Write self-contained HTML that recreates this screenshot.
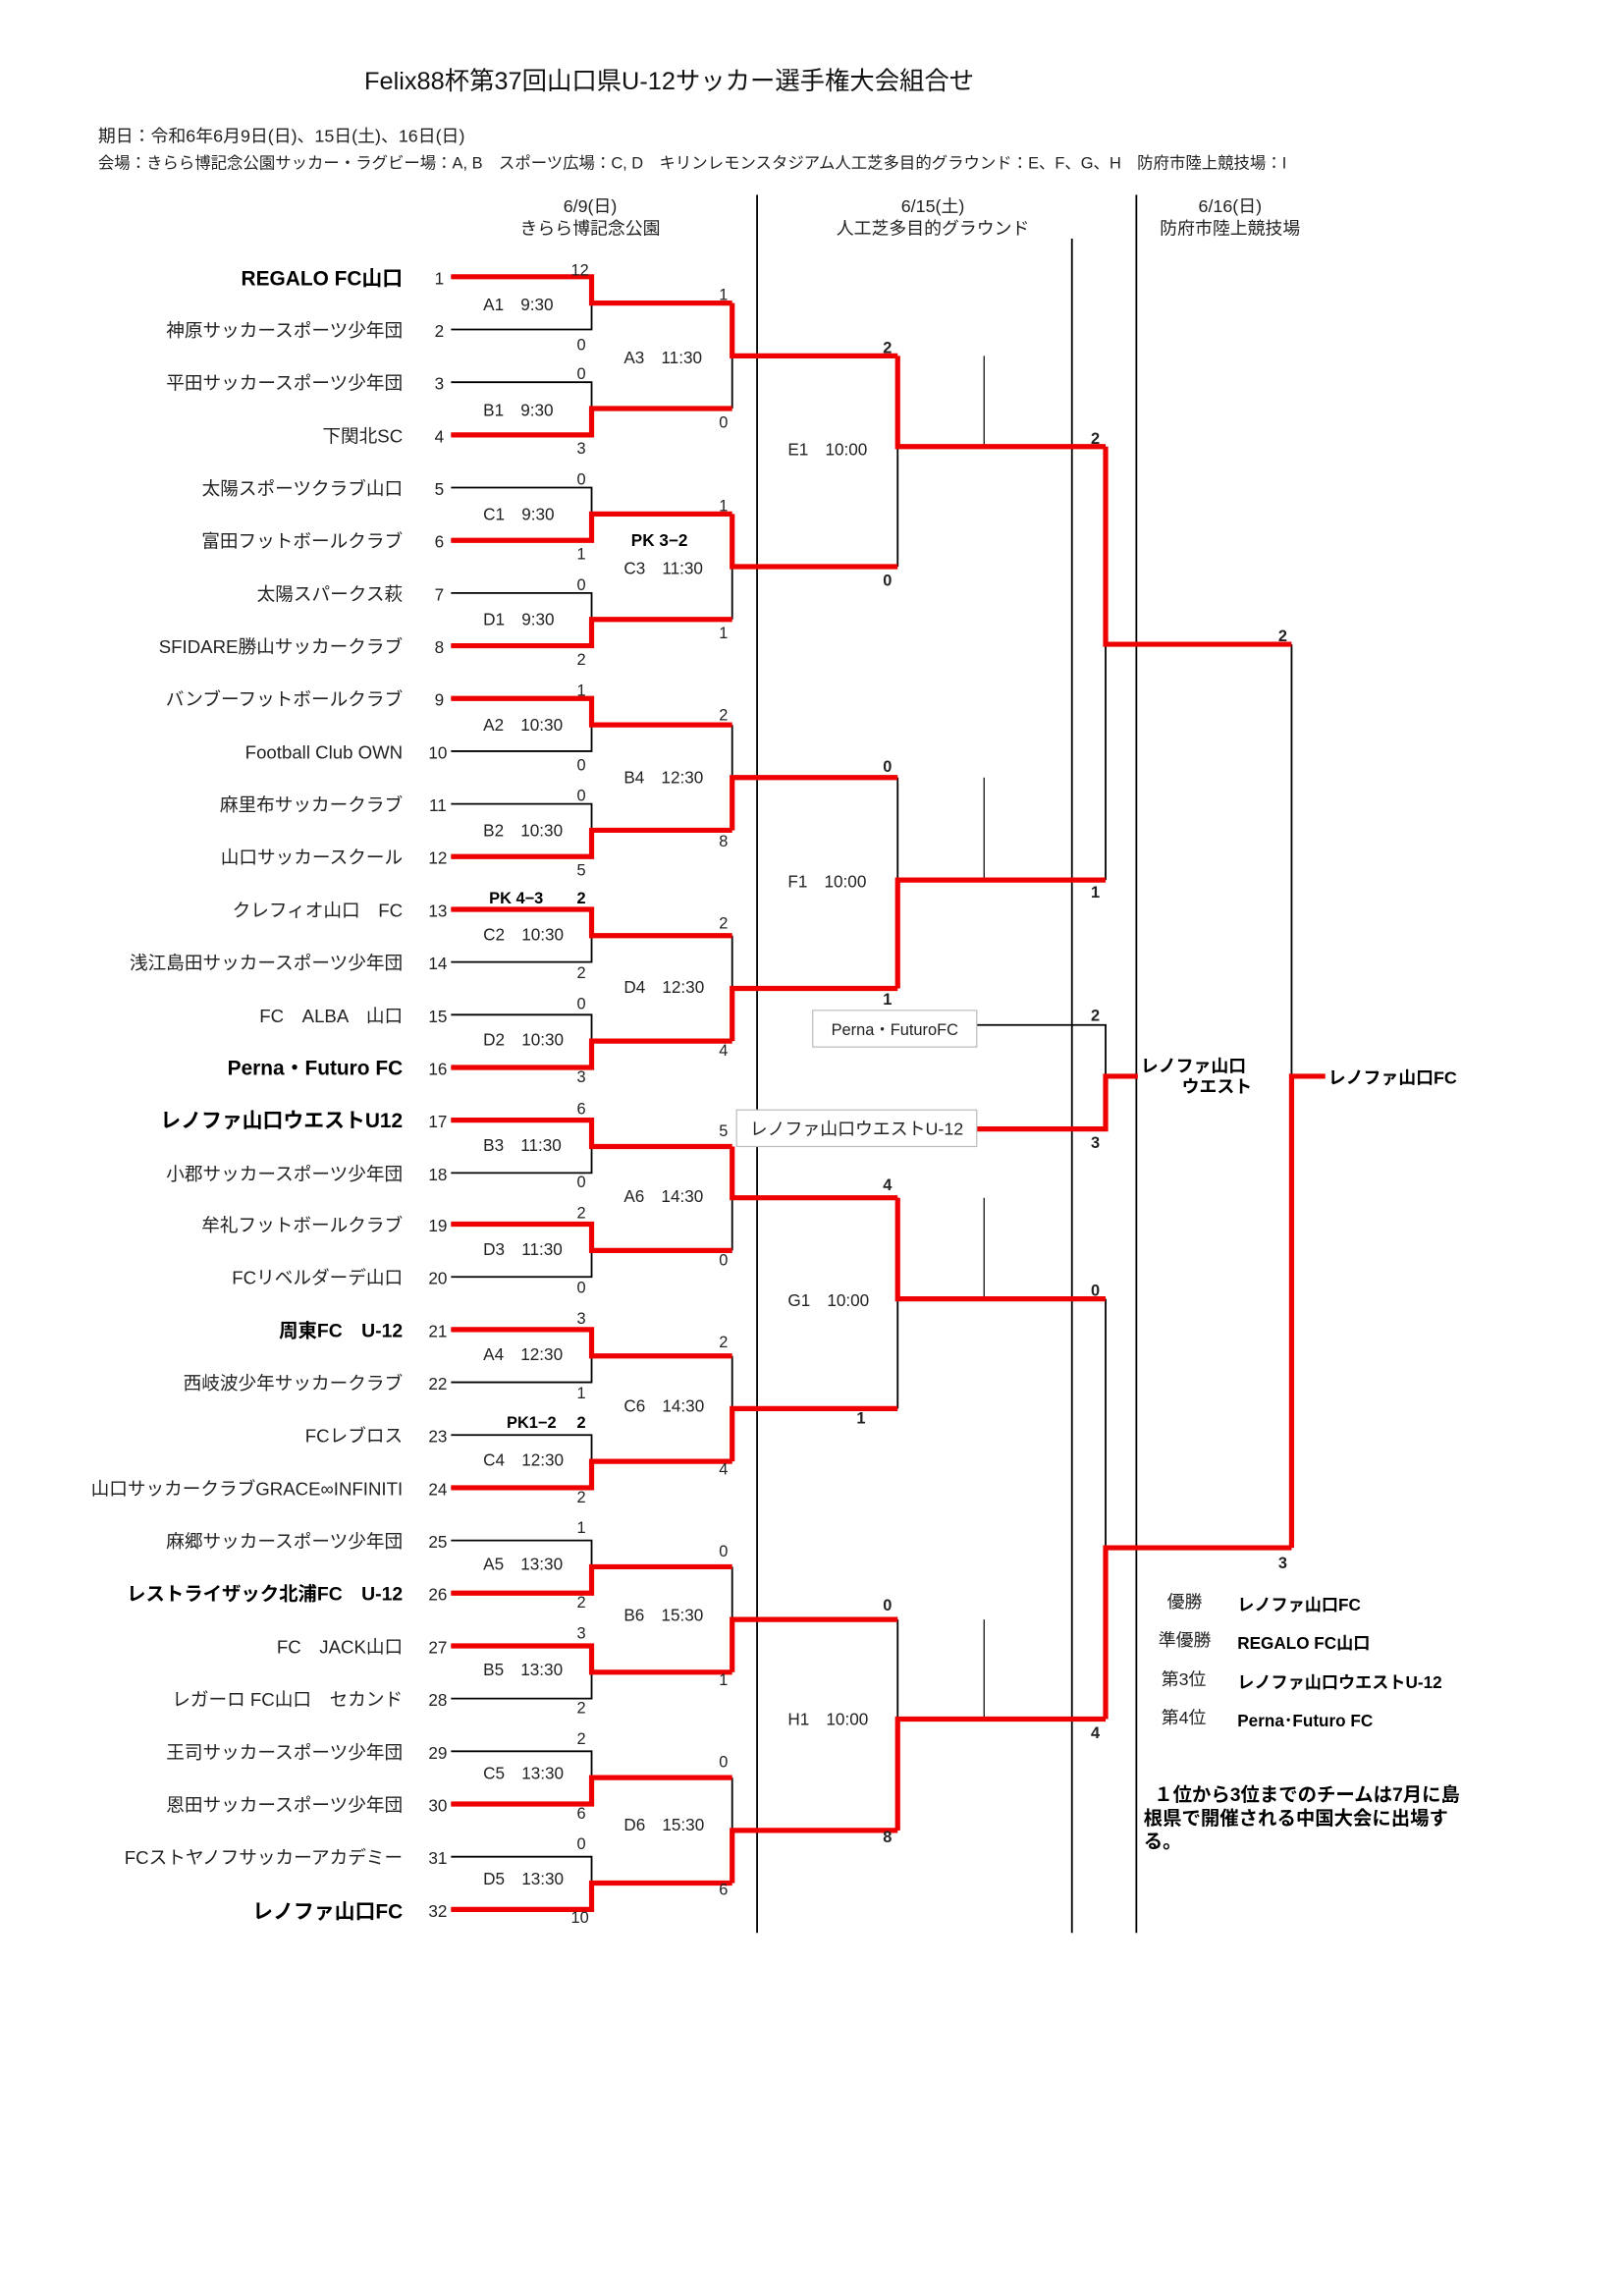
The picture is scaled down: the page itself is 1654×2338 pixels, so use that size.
<!DOCTYPE html>
<html><head><meta charset="utf-8"><style>
html,body{margin:0;padding:0;background:#fff}
svg{display:block}
text{font-family:"Liberation Sans","Noto Sans CJK JP",sans-serif;fill:#222}
.t{font-size:12.5px;text-anchor:end}
.b{font-weight:bold;font-size:14px;fill:#000}
.n{font-size:11.5px;text-anchor:middle}
.s{font-size:11px;text-anchor:middle}
.m{font-size:11.5px}
.sb{font-size:11px;font-weight:bold;text-anchor:middle;fill:#000}
</style></head><body>
<svg width="1654" height="2338" viewBox="0 0 1109 1568" preserveAspectRatio="none" xmlns="http://www.w3.org/2000/svg">
<text x="457" y="61" style="font-size:17px;text-anchor:middle;fill:#111">Felix88杯第37回山口県U-12サッカー選手権大会組合せ</text>
<text x="67" y="97" style="font-size:12px">期日：令和6年6月9日(日)、15日(土)、16日(日)</text>
<text x="67" y="115" style="font-size:11px">会場：きらら博記念公園サッカー・ラグビー場：A, B　スポーツ広場：C, D　キリンレモンスタジアム人工芝多目的グラウンド：E、F、G、H　防府市陸上競技場：I</text>
<g class="n" style="font-size:12px">
<text x="403" y="145">6/9(日)</text><text x="403" y="160">きらら博記念公園</text>
<text x="637" y="145">6/15(土)</text><text x="637" y="160">人工芝多目的グラウンド</text>
<text x="840" y="145">6/16(日)</text><text x="840" y="160">防府市陸上競技場</text>
</g>
<g stroke="#000" stroke-width="1.2" fill="none">
<path d="M517 133V1320M732 163V1320M776 133V1320"/>
<path d="M672 243V305M672 531V601M672 818V887M672 1106V1174" stroke-width="0.8"/>
<path d="M308 189H404V225H308M308 261H404V297H308M308 333H404V369H308M308 405H404V441H308M308 477H404V513H308M308 549H404V585H308M308 621H404V657H308M308 693H404V729H308M308 765H404V801H308M308 836H404V872H308M308 908H404V944H308M308 980H404V1016H308M308 1052H404V1088H308M308 1124H404V1160H308M308 1196H404V1232H308M308 1268H404V1304H308"/>
<path d="M500 207V279M500 351V423M500 495V567M500 639V711M500 783V854M500 926V998M500 1070V1142M500 1214V1286"/>
<path d="M613 243V387M613 531V675M613 818V962M613 1106V1250"/>
<path d="M755 305V601M755 887V1174M882 440V1057"/>
<path d="M667 700H755V771"/>
</g>
<g stroke="#e00" stroke-width="3.5" fill="none">
<path d="M308 189H404V207H500M308 297H404V279H500M308 369H404V351H500M308 441H404V423H500M308 477H404V495H500M308 585H404V567H500M308 621H404V639H500M308 729H404V711H500M308 765H404V783H500M308 836H404V854H500M308 908H404V926H500M308 1016H404V998H500M308 1088H404V1070H500M308 1124H404V1142H500M308 1232H404V1214H500M308 1304H404V1286H500"/>
<path d="M500 207V243H613M500 351V387H613M500 567V531H613M500 711V675H613M500 783V818H613M500 998V962H613M500 1142V1106H613M500 1286V1250H613"/>
<path d="M613 243V305H755M613 675V601H755M613 818V887H755M613 1250V1174H755"/>
<path d="M755 305V440H882M755 1174V1057H882M882 1057V735H905"/>
<path d="M667 771H755V735H777"/>
</g>
<rect x="555" y="690" width="112" height="25" fill="#fff" stroke="#bbb" stroke-width="0.8"/>
<text x="611" y="707" class="s">Perna・FuturoFC</text>
<rect x="503" y="758" width="164" height="25" fill="#fff" stroke="#bbb" stroke-width="0.8"/>
<text x="585" y="775" class="s" style="font-size:12px">レノファ山口ウエストU-12</text>
<g class="t">
<text x="275" y="195" class="b" style="text-anchor:end">REGALO FC山口</text>
<text x="275" y="230">神原サッカースポーツ少年団</text>
<text x="275" y="266">平田サッカースポーツ少年団</text>
<text x="275" y="302">下関北SC</text>
<text x="275" y="338">太陽スポーツクラブ山口</text>
<text x="275" y="374">富田フットボールクラブ</text>
<text x="275" y="410">太陽スパークス萩</text>
<text x="275" y="446">SFIDARE勝山サッカークラブ</text>
<text x="275" y="482">バンブーフットボールクラブ</text>
<text x="275" y="518">Football Club OWN</text>
<text x="275" y="554">麻里布サッカークラブ</text>
<text x="275" y="590">山口サッカースクール</text>
<text x="275" y="626">クレフィオ山口　FC</text>
<text x="275" y="662">浅江島田サッカースポーツ少年団</text>
<text x="275" y="698">FC　ALBA　山口</text>
<text x="275" y="734" class="b" style="text-anchor:end">Perna・Futuro FC</text>
<text x="275" y="770" class="b" style="text-anchor:end">レノファ山口ウエストU12</text>
<text x="275" y="806">小郡サッカースポーツ少年団</text>
<text x="275" y="841">牟礼フットボールクラブ</text>
<text x="275" y="877">FCリベルダーデ山口</text>
<text x="275" y="913" class="b" style="text-anchor:end;font-size:13px">周東FC　U-12</text>
<text x="275" y="949">西岐波少年サッカークラブ</text>
<text x="275" y="985">FCレブロス</text>
<text x="275" y="1021">山口サッカークラブGRACE∞INFINITI</text>
<text x="275" y="1057">麻郷サッカースポーツ少年団</text>
<text x="275" y="1093" class="b" style="text-anchor:end;font-size:13px">レストライザック北浦FC　U-12</text>
<text x="275" y="1129">FC　JACK山口</text>
<text x="275" y="1165">レガーロ FC山口　セカンド</text>
<text x="275" y="1201">王司サッカースポーツ少年団</text>
<text x="275" y="1237">恩田サッカースポーツ少年団</text>
<text x="275" y="1273">FCストヤノフサッカーアカデミー</text>
<text x="275" y="1310" class="b" style="text-anchor:end">レノファ山口FC</text>
</g>
<g class="n">
<text x="300" y="194">1</text><text x="300" y="230">2</text><text x="300" y="266">3</text><text x="300" y="302">4</text>
<text x="300" y="338">5</text><text x="300" y="374">6</text><text x="300" y="410">7</text><text x="300" y="446">8</text>
<text x="300" y="482">9</text><text x="299" y="518">10</text><text x="299" y="554">11</text><text x="299" y="590">12</text>
<text x="299" y="626">13</text><text x="299" y="662">14</text><text x="299" y="698">15</text><text x="299" y="734">16</text>
<text x="299" y="770">17</text><text x="299" y="806">18</text><text x="299" y="841">19</text><text x="299" y="877">20</text>
<text x="299" y="913">21</text><text x="299" y="949">22</text><text x="299" y="985">23</text><text x="299" y="1021">24</text>
<text x="299" y="1057">25</text><text x="299" y="1093">26</text><text x="299" y="1129">27</text><text x="299" y="1165">28</text>
<text x="299" y="1201">29</text><text x="299" y="1237">30</text><text x="299" y="1273">31</text><text x="299" y="1309">32</text>
</g>
<g class="m">
<text x="330" y="212">A1　9:30</text><text x="330" y="284">B1　9:30</text><text x="330" y="355">C1　9:30</text><text x="330" y="427">D1　9:30</text>
<text x="330" y="499">A2　10:30</text><text x="330" y="571">B2　10:30</text><text x="330" y="642">C2　10:30</text><text x="330" y="714">D2　10:30</text>
<text x="330" y="786">B3　11:30</text><text x="330" y="857">D3　11:30</text><text x="330" y="929">A4　12:30</text><text x="330" y="1001">C4　12:30</text>
<text x="330" y="1072">A5　13:30</text><text x="330" y="1144">B5　13:30</text><text x="330" y="1215">C5　13:30</text><text x="330" y="1287">D5　13:30</text>
<text x="426" y="248">A3　11:30</text><text x="426" y="392">C3　11:30</text><text x="426" y="535">B4　12:30</text><text x="426" y="678">D4　12:30</text>
<text x="426" y="821">A6　14:30</text><text x="426" y="964">C6　14:30</text><text x="426" y="1107">B6　15:30</text><text x="426" y="1250">D6　15:30</text>
<text x="538" y="311">E1　10:00</text><text x="538" y="606">F1　10:00</text><text x="538" y="892">G1　10:00</text><text x="538" y="1178">H1　10:00</text>
</g>
<text x="431" y="373" style="font-size:11.5px;font-weight:bold;fill:#000">PK 3−2</text>
<text x="334" y="617" style="font-size:11px;font-weight:bold;fill:#000">PK 4−3</text>
<text x="346" y="975" style="font-size:11px;font-weight:bold;fill:#000">PK1−2</text>
<g class="s">
<text x="396" y="188">12</text><text x="397" y="239">0</text>
<text x="397" y="259">0</text><text x="397" y="310">3</text>
<text x="397" y="331">0</text><text x="397" y="382">1</text>
<text x="397" y="403">0</text><text x="397" y="454">2</text>
<text x="397" y="475">1</text><text x="397" y="526">0</text>
<text x="397" y="547">0</text><text x="397" y="598">5</text>
<text x="397" y="617" class="sb">2</text><text x="397" y="668">2</text>
<text x="397" y="689">0</text><text x="397" y="739">3</text>
<text x="397" y="761">6</text><text x="397" y="811">0</text>
<text x="397" y="832">2</text><text x="397" y="883">0</text>
<text x="397" y="904">3</text><text x="397" y="955">1</text>
<text x="397" y="975" class="sb">2</text><text x="397" y="1026">2</text>
<text x="397" y="1047">1</text><text x="397" y="1098">2</text>
<text x="397" y="1119">3</text><text x="397" y="1170">2</text>
<text x="397" y="1191">2</text><text x="397" y="1242">6</text>
<text x="397" y="1263">0</text><text x="396" y="1313">10</text>
<text x="494" y="205">1</text><text x="494" y="292">0</text>
<text x="494" y="349">1</text><text x="494" y="436">1</text>
<text x="494" y="492">2</text><text x="494" y="578">8</text>
<text x="494" y="634">2</text><text x="494" y="721">4</text>
<text x="494" y="776">5</text><text x="494" y="864">0</text>
<text x="494" y="920">2</text><text x="494" y="1007">4</text>
<text x="494" y="1063">0</text><text x="494" y="1151">1</text>
<text x="494" y="1207">0</text><text x="494" y="1294">6</text>
</g>
<g class="sb">
<text x="606" y="241">2</text><text x="606" y="400">0</text>
<text x="606" y="527">0</text><text x="606" y="686">1</text>
<text x="606" y="813">4</text><text x="588" y="972">1</text>
<text x="606" y="1100">0</text><text x="606" y="1258">8</text>
<text x="748" y="303">2</text><text x="748" y="613">1</text>
<text x="748" y="885">0</text><text x="748" y="1187">4</text>
<text x="748" y="697">2</text><text x="748" y="784">3</text>
<text x="876" y="438">2</text><text x="876" y="1071">3</text>
</g>
<text x="779" y="732" style="font-size:12px;font-weight:bold;fill:#000">レノファ山口</text>
<text x="807" y="746" style="font-size:12px;font-weight:bold;fill:#000">ウエスト</text>
<text x="907" y="740" style="font-size:12px;font-weight:bold;fill:#000">レノファ山口FC</text>
<g style="font-size:12px">
<text x="797" y="1098">優勝</text><text x="791" y="1124">準優勝</text><text x="793" y="1151">第3位</text><text x="793" y="1177">第4位</text>
</g>
<g style="font-size:11.5px;font-weight:bold">
<text x="845" y="1100" style="fill:#000">レノファ山口FC</text>
<text x="845" y="1126" style="fill:#000">REGALO FC山口</text>
<text x="845" y="1153" style="fill:#000">レノファ山口ウエストU-12</text>
<text x="845" y="1179" style="fill:#000">Perna･Futuro FC</text>
</g>
<g style="font-size:13px;font-weight:bold">
<text x="788" y="1230" style="fill:#000">１位から3位までのチームは7月に島</text>
<text x="781" y="1246" style="fill:#000">根県で開催される中国大会に出場す</text>
<text x="781" y="1262" style="fill:#000">る。</text>
</g>
</svg>
</body></html>
